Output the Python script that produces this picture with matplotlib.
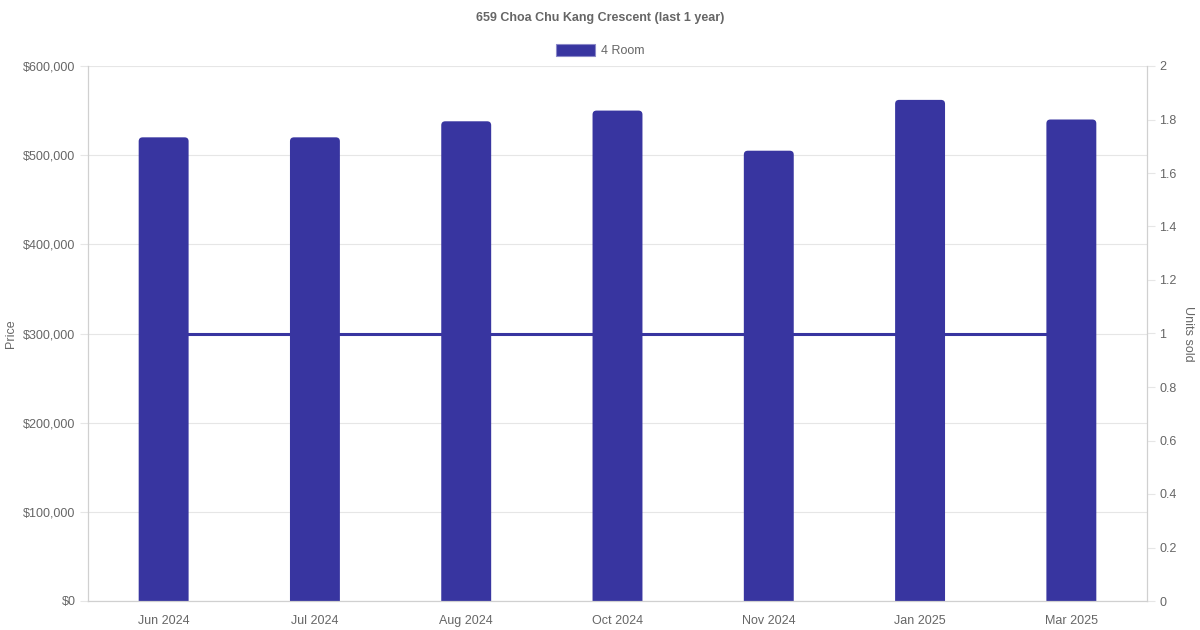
import numpy as np
import matplotlib.pyplot as plt
from matplotlib.patches import FancyBboxPatch
from matplotlib.ticker import FuncFormatter, MultipleLocator

plt.rcParams['font.family'] = ['Liberation Sans', 'DejaVu Sans']

# Data
months = ['Jun 2024', 'Jul 2024', 'Aug 2024', 'Oct 2024', 'Nov 2024', 'Jan 2025', 'Mar 2025']
prices = [520000, 520000, 538000, 550000, 505000, 562000, 540000]
units_sold = [1, 1, 1, 1, 1, 1, 1]

BAR_COLOR = '#3835a0'
TEXT_COLOR = '#666666'
GRID_COLOR = '#e6e6e6'
AXIS_COLOR = '#d0d0d0'

fig = plt.figure(figsize=(12, 6.3), dpi=100)
ax = fig.add_axes([88 / 1200, 1 - 601 / 630, (1147 - 88) / 1200, (601 - 66) / 630])
ax2 = ax.twinx()

x = np.arange(len(months))
ax.set_xlim(-0.5, len(months) - 0.5)
ax.set_ylim(0, 600000)
ax2.set_ylim(0, 2)

# bars with rounded top corners (radius ~4px)
bar_w = 0.33
bars = ax.bar(x, prices, width=bar_w, color=BAR_COLOR)
px_x = len(months) / (1147 - 88)
px_y = 600000 / (601 - 66)
r = 4 * px_x
aspect = px_y / px_x
for b in bars:
    b.set_visible(False)
    p = FancyBboxPatch((b.get_x(), -20000), b.get_width(), b.get_height() + 20000,
                       boxstyle=f"round,pad=0,rounding_size={r}",
                       mutation_aspect=aspect, facecolor=BAR_COLOR,
                       edgecolor='none', clip_on=True, zorder=2)
    ax.add_patch(p)

ax2.plot(x, units_sold, color=BAR_COLOR, linewidth=2.2, zorder=3)

# grid and spines
ax.yaxis.set_major_locator(MultipleLocator(100000))
ax.yaxis.set_major_formatter(FuncFormatter(lambda v, p: f"${v:,.0f}"))
ax2.yaxis.set_major_locator(MultipleLocator(0.2))
ax2.yaxis.set_major_formatter(FuncFormatter(lambda v, p: f"{v:g}"))
ax.grid(axis='y', color=GRID_COLOR, linewidth=0.8)
ax.set_axisbelow(True)
ax.set_xticks(x)
ax.set_xticklabels(months)

for a in (ax, ax2):
    a.spines['top'].set_visible(False)
    for s in ('left', 'right', 'bottom'):
        a.spines[s].set_color(AXIS_COLOR)
        a.spines[s].set_linewidth(0.8)
    a.tick_params(colors=TEXT_COLOR, labelsize=9, length=6, width=0.8)
    a.tick_params(axis='y', color=GRID_COLOR)
ax.tick_params(axis='x', length=0, pad=10)
ax.tick_params(axis='y', pad=3)
ax2.tick_params(axis='y', pad=3)

ax.set_ylabel('Price', color=TEXT_COLOR, fontsize=9, va='center')
ax.yaxis.set_label_coords((11 - 88) / 1059, 0.5)
ax2.set_ylabel('Units sold', color=TEXT_COLOR, fontsize=9, rotation=-90, va='center')
ax2.yaxis.set_label_coords((1188 - 88) / 1059, 0.5)

fig.text(0.5, 1 - 17.5 / 630, '659 Choa Chu Kang Crescent (last 1 year)', ha='center',
         va='center', fontsize=9, fontweight='bold', color=TEXT_COLOR)

# legend
leg_ax = fig.add_axes([0, 0, 1, 1], facecolor='none')
leg_ax.set_axis_off()
leg_ax.set_xlim(0, 1200)
leg_ax.set_ylim(630, 0)
leg_ax.add_patch(plt.Rectangle((556, 44), 39, 12, facecolor=BAR_COLOR, edgecolor='#8b89c8', linewidth=0.8))
leg_ax.text(601, 50.5, '4 Room', ha='left', va='center', fontsize=9, color=TEXT_COLOR)

fig.savefig('out.png', dpi=100)
